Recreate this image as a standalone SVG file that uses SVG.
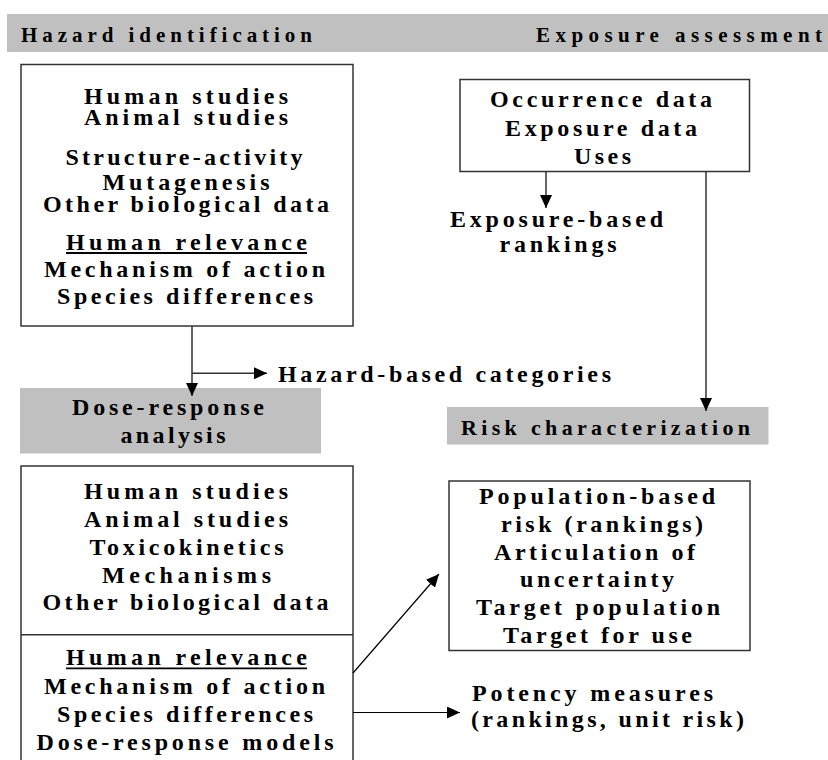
<svg xmlns="http://www.w3.org/2000/svg" width="828" height="760" viewBox="0 0 828 760">
<style>
  text { font-family: "Liberation Serif", "Times New Roman", serif; font-weight: bold; fill: #000; }
  .b { font-size: 24px; text-anchor: middle; }
  .h { font-size: 21px; }
  .hm { font-size: 22px; text-anchor: middle; }
  .box { fill: #fff; stroke: #333; stroke-width: 1.5; }
  .bar { fill: #c0c0c0; stroke: none; }
  .ul { stroke: #000; stroke-width: 1.8; }
  .con { fill: none; stroke: #333; stroke-width: 1.5; }
  .thin { fill: none; stroke: #000; stroke-width: 1.2; }
</style>
<defs>
  <marker id="ah" markerUnits="userSpaceOnUse" markerWidth="13" markerHeight="12" refX="13" refY="6" orient="auto">
    <path d="M0,0 L13,6 L0,12 Z" fill="#000"/>
  </marker>
</defs>

<g id="header-bar">
  <rect class="bar" x="7" y="14" width="821" height="38"/>
  <text class="h" x="21" y="42" textLength="291" lengthAdjust="spacing">Hazard identification</text>
  <text class="h" x="536" y="42" textLength="286" lengthAdjust="spacing">Exposure assessment</text>
</g>

<g id="hazard-box">
  <rect class="box" x="21" y="64.5" width="332" height="261.5"/>
  <text class="b" x="186" y="103.5" textLength="204" lengthAdjust="spacing">Human studies</text>
  <text class="b" x="186" y="124.5" textLength="204" lengthAdjust="spacing">Animal studies</text>
  <text class="b" x="184" y="165" textLength="237" lengthAdjust="spacing">Structure-activity</text>
  <text class="b" x="186" y="189.5" textLength="167" lengthAdjust="spacing">Mutagenesis</text>
  <text class="b" x="186" y="211.5" textLength="286" lengthAdjust="spacing">Other biological data</text>
  <text class="b" x="186.5" y="250" textLength="241" lengthAdjust="spacing">Human relevance</text>
  <line class="ul" x1="66" y1="253" x2="307" y2="253"/>
  <text class="b" x="184.5" y="277" textLength="281" lengthAdjust="spacing">Mechanism of action</text>
  <text class="b" x="185" y="304" textLength="256" lengthAdjust="spacing">Species differences</text>
</g>

<g id="exposure-box">
  <rect class="box" x="460" y="79.5" width="289.5" height="92"/>
  <text class="b" x="601" y="107" textLength="222" lengthAdjust="spacing">Occurrence data</text>
  <text class="b" x="601" y="136" textLength="192" lengthAdjust="spacing">Exposure data</text>
  <text class="b" x="602.5" y="164" textLength="57" lengthAdjust="spacing">Uses</text>
</g>

<g id="exposure-rankings">
  <text class="b" x="556.5" y="226.7" textLength="213" lengthAdjust="spacing">Exposure-based</text>
  <text class="b" x="558" y="252" textLength="117" lengthAdjust="spacing">rankings</text>
</g>

<g id="hazard-categories">
  <text class="b" x="444.5" y="382" textLength="333" lengthAdjust="spacing">Hazard-based categories</text>
</g>

<g id="dose-response">
  <rect class="bar" x="20" y="388" width="301" height="65.5"/>
  <text class="b" x="168" y="415" textLength="192" lengthAdjust="spacing">Dose-response</text>
  <text class="b" x="173" y="443" textLength="105" lengthAdjust="spacing">analysis</text>
</g>

<g id="risk-characterization">
  <rect class="bar" x="447" y="407" width="321.5" height="37.5"/>
  <text class="hm" x="605.5" y="435" textLength="289" lengthAdjust="spacing">Risk characterization</text>
</g>

<g id="dose-box">
  <rect class="box" x="21" y="466" width="332" height="310"/>
  <line class="con" x1="21" y1="634.7" x2="353" y2="634.7"/>
  <text class="b" x="186" y="499" textLength="204" lengthAdjust="spacing">Human studies</text>
  <text class="b" x="186" y="527" textLength="204" lengthAdjust="spacing">Animal studies</text>
  <text class="b" x="186.5" y="554.5" textLength="194" lengthAdjust="spacing">Toxicokinetics</text>
  <text class="b" x="186.5" y="583" textLength="169" lengthAdjust="spacing">Mechanisms</text>
  <text class="b" x="185.5" y="610" textLength="286" lengthAdjust="spacing">Other biological data</text>
  <text class="b" x="186.5" y="665" textLength="241" lengthAdjust="spacing">Human relevance</text>
  <line class="ul" x1="66" y1="668.3" x2="307" y2="668.3"/>
  <text class="b" x="184.5" y="694" textLength="281" lengthAdjust="spacing">Mechanism of action</text>
  <text class="b" x="185" y="722" textLength="256" lengthAdjust="spacing">Species differences</text>
  <text class="b" x="185" y="750" textLength="297" lengthAdjust="spacing">Dose-response models</text>
</g>

<g id="risk-box">
  <rect class="box" x="449" y="481" width="301" height="169.5"/>
  <text class="b" x="597" y="504" textLength="236" lengthAdjust="spacing">Population-based</text>
  <text class="b" x="602" y="532" textLength="202" lengthAdjust="spacing">risk (rankings)</text>
  <text class="b" x="594.5" y="560" textLength="201" lengthAdjust="spacing">Articulation of</text>
  <text class="b" x="597" y="587" textLength="154" lengthAdjust="spacing">uncertainty</text>
  <text class="b" x="598" y="615" textLength="244" lengthAdjust="spacing">Target population</text>
  <text class="b" x="597.5" y="643" textLength="189" lengthAdjust="spacing">Target for use</text>
</g>

<g id="potency">
  <text class="b" x="592.5" y="701" textLength="241" lengthAdjust="spacing">Potency measures</text>
  <text class="b" x="607.5" y="727" textLength="273" lengthAdjust="spacing">(rankings, unit risk)</text>
</g>

<g id="connectors">
  <line class="con" x1="192" y1="326" x2="192" y2="396" marker-end="url(#ah)"/>
  <line class="con" x1="192" y1="373.3" x2="267" y2="373.3" marker-end="url(#ah)"/>
  <line class="con" x1="546" y1="171.5" x2="546" y2="208" marker-end="url(#ah)"/>
  <line class="con" x1="706" y1="171.5" x2="706" y2="411" marker-end="url(#ah)"/>
  <line class="thin" x1="353" y1="673" x2="439" y2="574" marker-end="url(#ah)"/>
  <line class="thin" x1="353" y1="712.5" x2="460" y2="712.5" marker-end="url(#ah)"/>
</g>
</svg>
